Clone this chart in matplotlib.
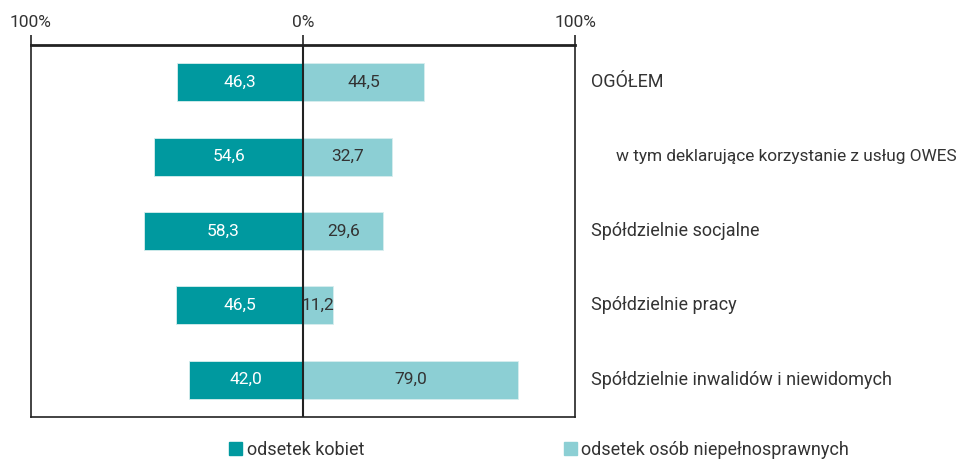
import matplotlib
matplotlib.use("Agg")
from matplotlib import pyplot as plt
from matplotlib.patches import Patch

# dane
kategorie = ["OGÓŁEM",
             "w tym deklarujące korzystanie z usług OWES",
             "Spółdzielnie socjalne",
             "Spółdzielnie pracy",
             "Spółdzielnie inwalidów i niewidomych"]
wciecie = [False, True, False, False, False]
kobiety = [46.3, 54.6, 58.3, 46.5, 42.0]
niepelnosprawni = [44.5, 32.7, 29.6, 11.2, 79.0]
ticki = [-100, 0, 100]
tick_etykiety = ["100%", "0%", "100%"]

c_ciemny = "#00999f"
c_jasny = "#8ccfd4"
c_tekst = "#333333"

plt.rcParams["font.family"] = ["Roboto", "DejaVu Sans"]

fig = plt.figure(figsize=(9.64, 4.59), dpi=100)
ax = fig.add_axes([0.032, 0.0915, 0.5645, 0.8105])

y = list(range(len(kategorie)))
ax.barh(y, [-v for v in kobiety], height=0.51, color=c_ciemny,
        edgecolor="#d8eeee", linewidth=0.6)
ax.barh(y, niepelnosprawni, height=0.51, color=c_jasny,
        edgecolor="#d8eeee", linewidth=0.6)

for i in y:
    ax.text(-kobiety[i] / 2, i, f"{kobiety[i]:.1f}".replace(".", ","),
            ha="center", va="center", color="white", fontsize=12.5)
    ax.text(niepelnosprawni[i] / 2, i, f"{niepelnosprawni[i]:.1f}".replace(".", ","),
            ha="center", va="center", color=c_tekst, fontsize=12.5)
    if wciecie[i]:
        ax.text(115, i, kategorie[i], ha="left", va="center", color=c_tekst,
                fontsize=12.4, clip_on=False)
    else:
        ax.text(106, i, kategorie[i], ha="left", va="center", color=c_tekst,
                fontsize=13, clip_on=False)

ax.axvline(0, color="#222222", linewidth=1.5)
ax.set_xlim(-100, 100)
ax.set_ylim(4.5, -0.5)
ax.set_yticks([])
ax.xaxis.tick_top()
ax.set_xticks(ticki)
ax.set_xticklabels(tick_etykiety, fontsize=12.5, color=c_tekst)
ax.tick_params(axis="x", direction="out", length=7, width=1.2, color="#222222", pad=4)
for s in ax.spines.values():
    s.set_color("#222222")
    s.set_linewidth(1.2)
ax.spines["top"].set_linewidth(2)

# legenda - dwa osobne elementy
opisy = ["odsetek kobiet", "odsetek osób niepełnosprawnych"]
kolory = [c_ciemny, c_jasny]
pozycje_x = [0.238, 0.585]
for opis, kolor, px in zip(opisy, kolory, pozycje_x):
    fig.legend(handles=[Patch(color=kolor, label=opis)], loc="lower left",
               bbox_to_anchor=(px, 0.0), borderaxespad=0, borderpad=0,
               frameon=False, fontsize=13, handlelength=0.7, handleheight=0.7,
               handletextpad=0.25, labelcolor=c_tekst)

fig.savefig("out.png", dpi=100)
